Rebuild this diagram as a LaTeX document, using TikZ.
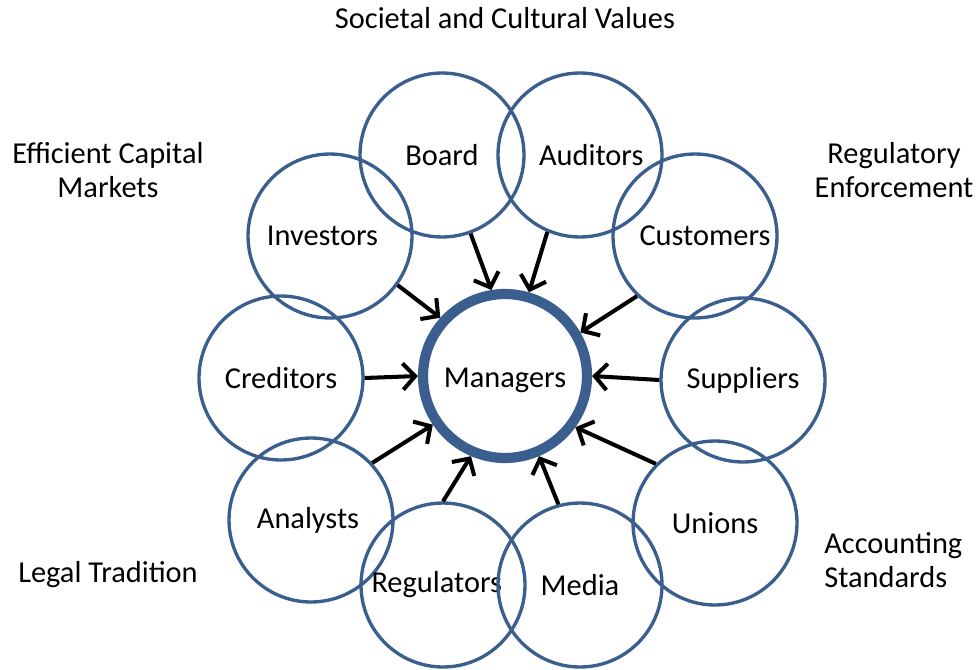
\documentclass[tikz,border=0pt]{standalone}
\usepackage{fontspec}
\setmainfont{Carlito}
\usetikzlibrary{arrows.meta}
\definecolor{ringblue}{RGB}{58,95,142}
\tikzset{
  ring/.style={
    circle, draw=ringblue, line width=1.9pt, minimum size=3.28cm,
    inner sep=0pt, font=\fontsize{17.3}{19.3}\selectfont
  },
  hub/.style={
    circle, draw=ringblue, line width=5.8pt, minimum size=3.28cm,
    inner sep=0pt, font=\fontsize{17.3}{19.3}\selectfont
  },
  arr/.style={-{Straight Barb[length=7pt,width=15pt]}, line width=2.3pt, black},
  lbl/.style={font=\fontsize{17.3}{19.3}\selectfont, inner sep=0pt}
}
\begin{document}
\begin{tikzpicture}[x=0.02cm,y=-0.02cm]
  \useasboundingbox (0,0) rectangle (979,669);

  % outer forces
  \node[lbl] (societal) at (505,18) {Societal and Cultural Values};
  \node[lbl, align=center] (capital) at (108,170) {Efficient Capital\\Markets};
  \node[lbl, align=center] (enforce) at (894,170) {Regulatory\\Enforcement};
  \node[lbl] (legal) at (108,575) {Legal Tradition};
  \node[lbl, align=left, anchor=west] (standards) at (824,560) {Accounting\\Standards};

  % ring of stakeholders
  \node[ring] (board)      at (442,155) {Board};
  \node[ring] (auditors)   at (580,155) {\hspace*{0.45cm}Auditors};
  \node[ring] (investors)  at (330,236) {Investors\hspace*{0.3cm}};
  \node[ring] (customers)  at (695,236) {\hspace*{0.4cm}Customers};
  \node[ring] (creditors)  at (281,378) {Creditors};
  \node[ring] (suppliers)  at (743,380) {Suppliers};
  \node[ring] (analysts)   at (311,520) {Analysts\hspace*{0.12cm}};
  \node[ring] (unions)     at (715,523) {Unions};
  \node[ring] (regulators) at (443,585) {Regulators\hspace*{0.25cm}};
  \node[ring] (media)      at (580,585) {Media};

  \node[hub] (managers) at (505,376) {\rule{0pt}{0.56cm}Managers};

  \draw[arr] (board.-70)       -- (managers.99);
  \draw[arr] (auditors.-113)   -- (managers.74);
  \draw[arr] (investors.-36)   -- (managers.138);
  \draw[arr] (customers.-134)  -- (managers.30);
  \draw[arr] (creditors.0)     -- (managers.180);
  \draw[arr] (suppliers.180)   -- (managers.0);
  \draw[arr] (analysts.43)     -- (managers.214);
  \draw[arr] (unions.135)      -- (managers.-36);
  \draw[arr] (regulators.90)   -- (managers.-113);
  \draw[arr] (media.105)       -- (managers.-67);
\end{tikzpicture}
\end{document}
